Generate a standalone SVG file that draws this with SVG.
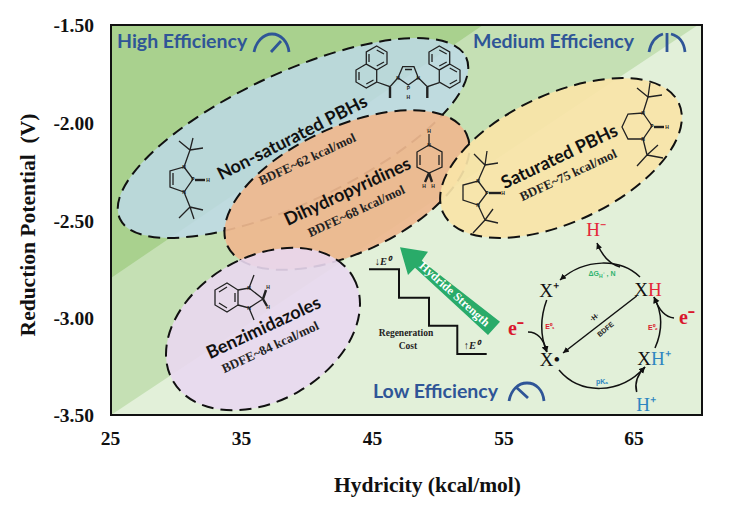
<svg xmlns="http://www.w3.org/2000/svg" width="750" height="524" viewBox="0 0 750 524">
<style>
text{font-family:"Liberation Serif",serif}
.ax{font-weight:bold;font-size:19.500px;fill:#111}
.title{font-weight:bold;font-size:21.500px;fill:#111}
.eff{font-family:Lato,"Liberation Sans",sans-serif;font-weight:bold;font-size:19.500px;fill:#2f5597}
.name{font-family:Lato,"Liberation Sans",sans-serif;font-weight:bold;font-size:18px;fill:#111;text-anchor:middle}
.bdfe{font-weight:bold;font-size:13px;fill:#222;text-anchor:middle}
.blob{stroke:#111;stroke-width:2;stroke-dasharray:12 7}
.gauge{fill:none;stroke:#2f5597;stroke-width:2.8}
.mol{fill:none;stroke:#222;stroke-width:1.3}
.bold{fill:none;stroke:#222;stroke-width:2.4}
.at{font-family:"Liberation Sans",sans-serif;font-size:5px;font-weight:bold;fill:#222;text-anchor:middle}
.cyc{fill:none;stroke:#111;stroke-width:1.5;marker-end:url(#ah)}
.big{font-size:19px;text-anchor:middle}
.sm{font-family:"Liberation Sans",sans-serif;font-size:7px;font-weight:bold;text-anchor:middle}
</style>
<defs>
<marker id="ah" markerWidth="7" markerHeight="7" refX="6" refY="3" orient="auto" markerUnits="userSpaceOnUse"><path d="M0,0L6,3L0,6Z" fill="#111"/></marker>
</defs>
<rect width="750" height="524" fill="#fff"/>
<g id="plot">
<rect x="111" y="25" width="591" height="390" fill="#e2f0d9"/>
<polygon points="111,415 111,25 698,25" fill="#c5e0b4"/>
<polygon points="111,278 111,25 483,25" fill="#a9d18e"/>
<rect x="111" y="25" width="591" height="390" fill="none" stroke="#111" stroke-width="2"/>
</g>
<g id="axes">
<text class="ax" x="94" y="32" text-anchor="end">-1.50</text>
<text class="ax" x="94" y="130" text-anchor="end">-2.00</text>
<text class="ax" x="94" y="227.500" text-anchor="end">-2.50</text>
<text class="ax" x="94" y="325" text-anchor="end">-3.00</text>
<text class="ax" x="94" y="422" text-anchor="end">-3.50</text>
<text class="ax" x="110.500" y="445" text-anchor="middle">25</text>
<text class="ax" x="241.500" y="445" text-anchor="middle">35</text>
<text class="ax" x="372.500" y="445" text-anchor="middle">45</text>
<text class="ax" x="504" y="445" text-anchor="middle">55</text>
<text class="ax" x="634" y="445" text-anchor="middle">65</text>
<text class="title" x="427.500" y="492" text-anchor="middle">Hydricity (kcal/mol)</text>
<text class="title" transform="translate(35,225) rotate(-90)" text-anchor="middle" xml:space="preserve">Reduction Potential  (V)</text>
</g>
<g id="regions">
<text class="eff" x="117" y="48">High Efficiency</text>
<text class="eff" x="473" y="48">Medium Efficiency</text>
<text class="eff" x="373" y="398">Low Efficiency</text>
<g class="gauge">
<path d="M254,52C256,42 263,34 272,34C281,34 288,42 289,52M271,52L281,41"/>
<path d="M649,52C651,42 656,36 663,34M671,34C679,36 684,42 685,52M667,33V52"/>
<path d="M509,401C511,390 518,383 527,383C536,383 543,390 544,401M528,398L516,387"/>
</g>
</g>
<g id="non-saturated">
<ellipse class="blob" cx="293" cy="138" rx="191" ry="65" transform="rotate(-25 293 138)" fill="#bdd9e6" fill-opacity=".85"/>
<path class="mol" d="M184,167L193,179L184,192L170,187V171ZM173,173V185M184,167L190,150M179,141L190,150L193,138M190,150L203,148M184,192L190,207M179,218L190,207L194,219M190,207L203,210"/>
<path class="bold" d="M195,180H205"/>
<text class="at" x="184" y="169">N</text><text class="at" x="193" y="181">P</text><text class="at" x="184" y="194">N</text><text class="at" x="208" y="182">H</text>
<path class="mol" d="M376.700,46L387,52V64L376.700,70L366.300,64V52ZM376.700,50L384,54M384,62L376.700,66M369,62V54M366.300,64L376.700,70V82L366.300,88L356,82V70ZM366.300,84L373.500,80M359,80V72M376.700,82L390,86.700L398,77.700M398,77.700L402.700,66.700H414L418.300,77.700L408.300,85ZM405,69.500H412M418.300,77.700L427.300,86.700L439.300,82.700"/>
<path class="mol" d="M439.300,46L449.700,52V64L439.300,70L429,64V52ZM439.300,50L446.700,54M446.700,62L439.300,66M432,62V54M449.700,64L460,70V82L449.700,88L439.300,82V70ZM449.700,84L457,80M457,72L449.700,68"/>
<path class="bold" d="M390,87V98M427.300,87V98"/>
<text class="at" x="398" y="80">N</text><text class="at" x="418.300" y="80">N</text><text class="at" x="408.300" y="90">P</text><text class="at" x="408.300" y="99">H</text>
</g>
<g id="dihydropyridines">
<ellipse class="blob" cx="347" cy="190" rx="132" ry="63" transform="rotate(-25 347 190)" fill="#eeb88f" fill-opacity=".93"/>
<text class="name" transform="translate(350,197) rotate(-25)">Dihydropyridines</text>
<text class="bdfe" transform="translate(358,215) rotate(-25)">BDFE~68 kcal/mol</text>
<path class="mol" d="M429,145L417,152V167L429,173L442,167V152ZM420,155V165M439,155V165M429,145V134"/>
<path class="bold" d="M429,173L425,182M429,173L432,182"/>
<text class="at" x="429" y="147">N</text><text class="at" x="429" y="133">H</text><text class="at" x="424" y="188">H</text><text class="at" x="433" y="188">H</text>
</g>
<g id="non-saturated-labels">
<text class="name" transform="translate(295,143) rotate(-27)">Non-saturated PBHs</text>
<text class="bdfe" transform="translate(309,163) rotate(-25)">BDFE~62 kcal/mol</text>
</g>
<g id="benzimidazoles">
<ellipse class="blob" cx="263" cy="329" rx="104" ry="72" transform="rotate(-30 263 329)" fill="#e9d8f0" fill-opacity=".9"/>
<text class="name" transform="translate(266,333) rotate(-25)">Benzimidazoles</text>
<text class="bdfe" transform="translate(272,351) rotate(-25)">BDFE~84 kcal/mol</text>
<path class="mol" d="M238,290V305L227,312L215,305V290L227,283ZM235,293V302M227,308L219,303M219,292L227,287M238,290L249,288L263,299L249,308L238,305M249,288L254,275M249,308L254,320"/>
<path class="bold" d="M263,299L266,290M263,299L267,306"/>
<text class="at" x="249" y="290">N</text><text class="at" x="249" y="310">N</text><text class="at" x="268" y="289">H</text><text class="at" x="268" y="309">H</text>
</g>
<g id="saturated">
<ellipse class="blob" cx="561" cy="158" rx="130" ry="64" transform="rotate(-25 561 158)" fill="#f8e4a8" fill-opacity=".92"/>
<text class="name" transform="translate(562,162) rotate(-25.500)">Saturated PBHs</text>
<text class="bdfe" transform="translate(570,179) rotate(-25)">BDFE~75 kcal/mol</text>
<path class="mol" d="M478,181L487,193L478,205L463,200V185ZM478,181L485,165M474,154L485,165L487,151M485,165L498,163M478,205L485,220M473,233L485,220L493,209M485,220L498,223"/>
<path class="bold" d="M489,193H501"/>
<text class="at" x="478" y="183">N</text><text class="at" x="487" y="195">P</text><text class="at" x="478" y="207">N</text><text class="at" x="503" y="195">H</text>
<path class="mol" d="M643,113L652,126L643,139H628L622,127L628,114ZM643,113L648,97M637,88L648,97L650,83M648,97L662,95M643,139L647,155M637,166L647,155L658,145M647,155L663,158"/>
<path class="bold" d="M654,127H664"/>
<text class="at" x="643" y="115">N</text><text class="at" x="652" y="128">P</text><text class="at" x="643" y="141">N</text><text class="at" x="667" y="129">H</text>
</g>
<g id="regeneration">
<path d="M369,269.300H399V297.700H429V325.700H457.300V354H486.700" fill="none" stroke="#111" stroke-width="2"/>
<text x="383" y="265" font-size="10.500" font-weight="bold" font-style="italic" text-anchor="middle" fill="#222">↓E⁰</text>
<text x="472" y="349" font-size="10.500" font-weight="bold" font-style="italic" text-anchor="middle" fill="#222">↑E⁰</text>
<text x="406" y="336" font-size="9.500" font-weight="bold" text-anchor="middle" fill="#222">Regeneration</text>
<text x="408" y="349" font-size="9.500" font-weight="bold" text-anchor="middle" fill="#222">Cost</text>
</g>
<g id="hydride-strength">
<polygon points="400,247.300 428,251.700 421.700,260.700 500,321.700 488,335 415,267.700 408,275" fill="#29ab69"/>
<text transform="translate(452,297) rotate(42)" font-size="12" font-weight="bold" fill="#fff" text-anchor="middle">Hydride Strength</text>
</g>
<g id="cycle-connectors">
<path class="cyc" d="M640,277C620,258 585,258 560,280"/>
<path class="cyc" d="M546.700,300C540,318 540,335 546.700,352"/>
<path class="cyc" d="M559,370C580,395 620,395 645,367"/>
<path class="cyc" d="M655,348C663,330 662,312 654,297"/>
<path class="cyc" d="M620,267C610,264 602,256 597,243"/>
<path class="cyc" d="M528,332C538,332 544,340 547,352"/>
<path class="cyc" d="M674,318C664,317 658,308 654,297"/>
<path class="cyc" d="M636.700,392C634,382 638,374 645,367"/>
<path class="cyc" d="M636.700,296L563,353"/>
</g>
<g id="cycle-labels">
<text class="big" x="596" y="236" fill="#e5263a">H⁻</text>
<text class="big" x="648" y="296"><tspan fill="#111">X</tspan><tspan fill="#e5263a">H</tspan></text>
<text class="big" x="549" y="297" fill="#111">X⁺</text>
<text class="big" x="550" y="366" fill="#111">X•</text>
<text class="big" x="654" y="365"><tspan fill="#111">X</tspan><tspan fill="#2e86c1">H⁺</tspan></text>
<text class="big" x="646" y="411" fill="#2e86c1">H⁺</text>
<text x="516" y="335" font-size="20" font-weight="bold" fill="#d9182d" text-anchor="middle">e⁻</text>
<text x="687" y="324" font-size="20" font-weight="bold" fill="#d9182d" text-anchor="middle">e⁻</text>
<text class="sm" x="602" y="276" fill="#2fb36f">ΔG<tspan font-size="5" dy="1.500">H</tspan><tspan font-size="5" dy="-1.500">⁻</tspan> , N</text>
<text class="sm" x="550" y="329" fill="#d9182d">E⁰₁</text>
<text class="sm" x="653" y="330" fill="#d9182d">E⁰₂</text>
<text class="sm" x="602" y="384" fill="#2e86c1">pKₐ</text>
<text class="sm" transform="translate(596,319) rotate(-40)" fill="#222">·H·</text>
<text class="sm" transform="translate(607,331) rotate(-40)" fill="#222">BDFE</text>
</g>
</svg>
